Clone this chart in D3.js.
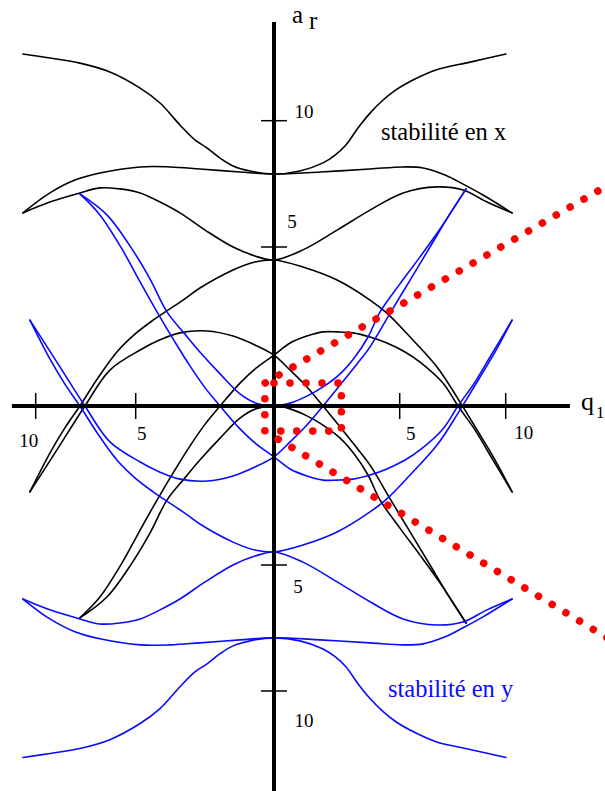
<!DOCTYPE html>
<html>
<head>
<meta charset="utf-8">
<script src="https://cdn.jsdelivr.net/npm/d3@7"></script>
<style>
  html, body { margin: 0; padding: 0; background: #fff; }
  svg text { font-family: "Liberation Serif", "DejaVu Serif", serif; }
</style>
</head>
<body>
<svg id="chart" width="605" height="791"></svg>
<script>
// Tick values on the q and a axes
const qTicks = [-10, -5, 5, 10];
const aTicks = [-10, -5, 5, 10];

// Stability boundaries in x, as (q, a) pairs
const xTop = [[-10.64,12.64],[-9.29,12.48],[-7.79,12.28],[-6.29,11.93],[-4.84,11.29],[-4.12,10.70],[-3.40,9.83],[-2.86,9.24],[-2.42,8.92],[-1.95,8.52],[-1.48,8.21],[-0.87,8.01],[0,7.89],[1.03,8.01],[1.95,8.33],[2.43,8.64],[2.86,9.04],[3.34,9.71],[3.82,10.30],[4.34,10.82],[4.85,11.22],[5.72,11.65],[6.71,12.01],[8.32,12.32],[10.01,12.64]];
const xFlat = [[-10.64,6.35],[-9.29,7.14],[-8.04,7.65],[-6.79,7.93],[-4.84,8.17],[-3.76,8.17],[-2.68,8.09],[-1.23,7.97],[0,7.89],[1.83,7.97],[3.82,8.09],[5.16,8.17],[6.10,8.13],[7.14,7.85],[7.99,7.49],[8.93,7.06],[10.30,6.35]];
const xCup4 = [[-10.64,6.35],[-9.29,6.78],[-7.79,7.14],[-6.79,7.34],[-5.79,7.30],[-4.84,7.14],[-4.12,6.78],[-3.40,6.35],[-2.49,5.67],[-1.48,5.00],[-0.69,4.72],[0,4.59],[1.15,4.91],[2.51,5.67],[3.82,6.46],[5.16,7.14],[6.76,7.38],[7.99,7.26],[9.12,6.78],[10.30,6.35]];
const xCap4 = [[-10.29,-2.70],[-9.29,-1.48],[-8.54,-0.69],[-7.79,0],[-6.89,0.88],[-5.94,1.70],[-5.04,2.26],[-4.37,2.70],[-3.29,3.33],[-2.68,3.71],[-1.48,4.28],[-0.69,4.53],[0,4.59],[1.15,4.37],[2.51,3.96],[3.82,3.33],[4.49,2.92],[5.49,2.17],[6.76,1.23],[7.70,0.28],[8.08,-0.13],[8.79,-0.91],[9.50,-1.70],[10.30,-2.70]];
const xRise1 = [[-7.79,-7.10],[-6.79,-6.27],[-5.69,-4.94],[-4.84,-3.90],[-4.23,-2.96],[-3.58,-2.01],[-3.04,-1.26],[-2.49,-0.57],[-1.95,0],[-1.23,0.72],[-0.65,1.19],[0,1.60],[0.64,1.98],[1.31,2.20],[1.95,2.33],[2.51,2.33],[3.14,2.30],[3.82,2.17],[4.49,1.98],[5.25,1.70],[5.96,1.38],[7.04,0.72],[7.75,0],[8.55,-0.75],[9.26,-1.54],[10.30,-2.70]];
const xFall1 = [[-10.29,-2.70],[-8.94,-1.38],[-7.54,0],[-6.29,1.13],[-4.84,1.76],[-4.12,2.08],[-3.40,2.30],[-2.42,2.36],[-1.48,2.20],[-0.69,1.92],[0,1.60],[0.64,1.13],[1.31,0.60],[1.95,0],[2.63,-0.66],[3.30,-1.32],[3.82,-1.86],[4.65,-2.96],[5.49,-3.96],[6.43,-5.00],[7.28,-6.19],[8.13,-7.30]];
const xCap0 = [[-7.79,-7.10],[-6.44,-6.27],[-5.19,-4.94],[-4.48,-3.99],[-3.87,-2.96],[-3.22,-2.26],[-2.68,-1.70],[-1.95,-1.01],[-1.23,-0.38],[-0.65,-0.09],[0,0],[0.64,-0.09],[1.31,-0.31],[1.95,-0.60],[2.63,-1.01],[3.22,-1.54],[3.74,-2.17],[4.22,-2.96],[5.01,-3.84],[5.96,-4.69],[6.90,-5.71],[8.13,-7.30]];

// Stability boundaries in y, as (q, a) pairs
const yBottom = [[-10.64,-12.64],[-9.29,-12.48],[-7.79,-12.28],[-6.29,-11.93],[-4.84,-11.29],[-4.12,-10.70],[-3.40,-9.83],[-2.86,-9.24],[-2.42,-8.92],[-1.95,-8.52],[-1.48,-8.21],[-0.87,-8.01],[0,-7.89],[1.03,-8.01],[1.95,-8.33],[2.43,-8.64],[2.86,-9.04],[3.34,-9.71],[3.82,-10.30],[4.34,-10.82],[4.85,-11.22],[5.72,-11.65],[6.71,-12.01],[8.32,-12.32],[10.01,-12.64]];
const yFlat = [[-10.64,-6.35],[-9.29,-7.14],[-8.04,-7.65],[-6.79,-7.93],[-4.84,-8.17],[-3.76,-8.17],[-2.68,-8.09],[-1.23,-7.97],[0,-7.89],[1.83,-7.97],[3.82,-8.09],[5.16,-8.17],[6.10,-8.13],[7.14,-7.85],[7.99,-7.49],[8.93,-7.06],[10.30,-6.35]];
const yCap4 = [[-10.64,-6.35],[-9.29,-6.78],[-7.79,-7.14],[-6.79,-7.34],[-5.79,-7.30],[-4.84,-7.14],[-4.12,-6.78],[-3.40,-6.35],[-2.49,-5.67],[-1.48,-5.00],[-0.69,-4.72],[0,-4.59],[1.15,-4.91],[2.51,-5.67],[3.82,-6.46],[5.16,-7.14],[6.76,-7.38],[7.99,-7.26],[9.12,-6.78],[10.30,-6.35]];
const yCup4 = [[-10.29,2.70],[-9.29,1.48],[-8.54,0.69],[-7.79,0],[-6.89,-0.88],[-5.94,-1.70],[-5.04,-2.26],[-4.37,-2.70],[-3.29,-3.33],[-2.68,-3.71],[-1.48,-4.28],[-0.69,-4.53],[0,-4.59],[1.15,-4.37],[2.51,-3.96],[3.82,-3.33],[4.49,-2.92],[5.49,-2.17],[6.76,-1.23],[7.70,-0.28],[8.08,0.13],[8.79,0.91],[9.50,1.70],[10.30,2.70]];
const yFall1 = [[-7.79,7.10],[-6.79,6.27],[-5.69,4.94],[-4.84,3.90],[-4.23,2.96],[-3.58,2.01],[-3.04,1.26],[-2.49,0.57],[-1.95,0],[-1.23,-0.72],[-0.65,-1.19],[0,-1.60],[0.64,-1.98],[1.31,-2.20],[1.95,-2.33],[2.51,-2.33],[3.14,-2.30],[3.82,-2.17],[4.49,-1.98],[5.25,-1.70],[5.96,-1.38],[7.04,-0.72],[7.75,0],[8.55,0.75],[9.26,1.54],[10.30,2.70]];
const yRise1 = [[-10.29,2.70],[-8.94,1.38],[-7.54,0],[-6.29,-1.13],[-4.84,-1.76],[-4.12,-2.08],[-3.40,-2.30],[-2.42,-2.36],[-1.48,-2.20],[-0.69,-1.92],[0,-1.60],[0.64,-1.13],[1.31,-0.60],[1.95,0],[2.63,0.66],[3.30,1.32],[3.82,1.86],[4.65,2.96],[5.49,3.96],[6.43,5.00],[7.28,6.19],[8.13,7.30]];
const yCup0 = [[-7.79,7.10],[-6.44,6.27],[-5.19,4.94],[-4.48,3.99],[-3.87,2.96],[-3.22,2.26],[-2.68,1.70],[-1.95,1.01],[-1.23,0.38],[-0.65,0.09],[0,0],[0.64,0.09],[1.31,0.31],[1.95,0.60],[2.63,1.01],[3.22,1.54],[3.74,2.17],[4.22,2.96],[5.01,3.84],[5.96,4.69],[6.90,5.71],[8.13,7.30]];

// Working line (q, a) and the dotted frame around the origin
const workLine = [[15.0,7.53],[-0.33,0.72],[-0.33,-0.79],[15.46,-8.23]];
const workFrame = [[0,0.72],[2.68,0.72],[2.68,-0.79],[-0.33,-0.79]];

// Axis extents (data units)
const qExtent = [-11.19, 13.03];
const aExtent = [-14.2, 13.91];

// ---------------------------------------------------------------
const svg = d3.select("#chart");

// piecewise scales: the drawing is not evenly spaced between ticks
const x = d3.scaleLinear().domain([-10, -5, 0, 5, 10]).range([35.7, 135.7, 274, 399.7, 505.7]);
const y = d3.scaleLinear().domain([-10, -5, 0, 5, 10]).range([691, 565, 406, 247, 120.7]);

const line = d3.line().x(d => x(d[0])).y(d => y(d[1])).curve(d3.curveCatmullRom.alpha(0.5));
const poly = d3.line().x(d => x(d[0])).y(d => y(d[1]));

const gCurves = svg.append("g").attr("fill", "none").attr("stroke-linejoin", "round").attr("stroke-linecap", "round");

gCurves.selectAll("path.xc")
  .data([xTop, xFlat, xCup4, xCap4, xRise1, xFall1, xCap0])
  .join("path").attr("class", "xc")
  .attr("d", line).attr("stroke", "#000").attr("stroke-width", 1.6);

gCurves.selectAll("path.yc")
  .data([yBottom, yFlat, yCap4, yCup4, yFall1, yRise1, yCup0])
  .join("path").attr("class", "yc")
  .attr("d", line).attr("stroke", "#0a0aff").attr("stroke-width", 1.6);

// axes
const gAxes = svg.append("g").attr("stroke", "#000");
gAxes.append("line")
  .attr("x1", x(qExtent[0])).attr("x2", x(qExtent[1]))
  .attr("y1", y(0)).attr("y2", y(0)).attr("stroke-width", 4);
gAxes.append("line")
  .attr("x1", x(0)).attr("x2", x(0))
  .attr("y1", y(aExtent[1])).attr("y2", y(aExtent[0])).attr("stroke-width", 4);

const tickHalf = 13;
gAxes.selectAll("line.qt").data(qTicks).join("line").attr("class", "qt")
  .attr("x1", d => x(d)).attr("x2", d => x(d))
  .attr("y1", y(0) - tickHalf).attr("y2", y(0) + tickHalf).attr("stroke-width", 1.5);
gAxes.selectAll("line.at").data(aTicks).join("line").attr("class", "at")
  .attr("y1", d => y(d)).attr("y2", d => y(d))
  .attr("x1", x(0) - tickHalf).attr("x2", x(0) + tickHalf).attr("stroke-width", 1.5);

// tick label placement relative to the tick
const qLabelShift = { "-10": [-7, 41], "-5": [6, 34], "5": [11, 34], "10": [18, 33] };
const aLabelShift = { "10": [30, -3], "5": [18, -19], "-5": [24, 28], "-10": [30, 36] };

svg.append("g").selectAll("text").data(qTicks).join("text")
  .attr("x", d => x(d) + qLabelShift[d][0])
  .attr("y", d => y(0) + qLabelShift[d][1])
  .attr("text-anchor", "middle").attr("font-size", 19)
  .text(d => Math.abs(d));

svg.append("g").selectAll("text").data(aTicks).join("text")
  .attr("x", d => x(0) + aLabelShift[d][0])
  .attr("y", d => y(d) + aLabelShift[d][1])
  .attr("text-anchor", "middle").attr("font-size", 19)
  .text(d => Math.abs(d));

// axis titles
svg.append("text").attr("x", 292).attr("y", 23).attr("font-size", 25).text("a");
svg.append("text").attr("x", 309).attr("y", 29).attr("font-size", 25).text("r");
svg.append("text").attr("x", 581).attr("y", 410).attr("font-size", 26).text("q");
svg.append("text").attr("x", 596).attr("y", 418).attr("font-size", 17).text("1");

// region captions
svg.append("text").attr("x", 381).attr("y", 140).attr("font-size", 24.5).attr("fill", "#000").text("stabilité en x");
svg.append("text").attr("x", 388).attr("y", 697).attr("font-size", 24.5).attr("fill", "#0a0aff").text("stabilité en y");

// dotted red paths on top
const gRed = svg.append("g").attr("fill", "none").attr("stroke", "#ff0000")
  .attr("stroke-width", 7.6).attr("stroke-linecap", "round")
  .attr("stroke-dasharray", "0.01 15.99");
gRed.append("path").datum(workLine).attr("d", poly);
gRed.append("path").datum(workFrame).attr("d", poly);
</script>
</body>
</html>
